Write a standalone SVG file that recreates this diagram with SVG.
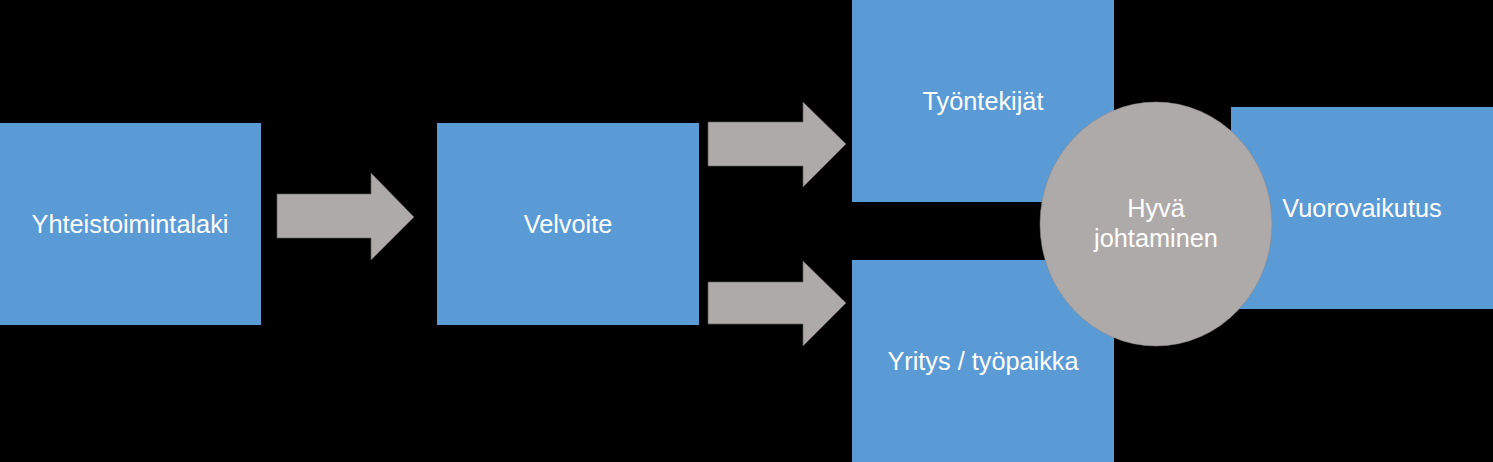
<svg xmlns="http://www.w3.org/2000/svg" width="1493" height="462" viewBox="0 0 1493 462">
<style>
.box{fill:#5B9BD5}
.arr{fill:#AEAAAA;stroke:#5f5d5d;stroke-width:0.7}
.lbl{font-family:"Liberation Sans",Arial,sans-serif;font-size:25.3px;fill:#ffffff;text-anchor:middle}
</style>
<rect width="1493" height="462" fill="#000000"/>
<g id="connectors">
<polygon class="arr" points="277,194 371,194 371,173 414,217 371,260 371,238 277,238"/>
<polygon class="arr" points="708,122 803,122 803,102 846,144 803,187 803,166 708,166"/>
<polygon class="arr" points="708,282 803,282 803,261 846,303 803,346 803,324 708,324"/>
</g>
<g id="yhteistoimintalaki">
<rect class="box" x="0" y="123" width="261" height="202"/>
<text class="lbl" x="130" y="233">Yhteistoimintalaki</text>
</g>
<g id="velvoite">
<rect class="box" x="437" y="123" width="262" height="202"/>
<text class="lbl" x="568" y="233">Velvoite</text>
</g>
<g id="tyontekijat">
<rect class="box" x="852" y="0" width="262" height="202"/>
<text class="lbl" x="983" y="110">Työntekijät</text>
</g>
<g id="yritys">
<rect class="box" x="852" y="260" width="262" height="202"/>
<text class="lbl" x="983" y="370">Yritys / työpaikka</text>
</g>
<g id="vuorovaikutus">
<rect class="box" x="1231" y="107" width="262" height="202"/>
<text class="lbl" x="1362" y="217">Vuorovaikutus</text>
</g>
<g id="hyva-johtaminen">
<ellipse cx="1156" cy="224" rx="116" ry="122" fill="#AEAAAA" stroke="#8a8787" stroke-width="0.5"/>
<text class="lbl" x="1156" y="217">Hyvä</text>
<text class="lbl" x="1156" y="247">johtaminen</text>
</g>
</svg>
